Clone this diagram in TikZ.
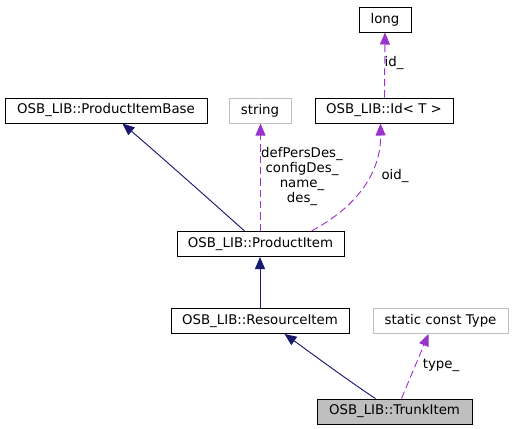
\documentclass[tikz,border=0pt]{standalone}
\usepackage{fontspec}
\setmainfont{DejaVu Sans}
\usetikzlibrary{arrows.meta,calc}
\definecolor{inhc}{HTML}{191970}
\definecolor{usec}{HTML}{9A32CD}
\definecolor{grayb}{HTML}{BFBFBF}
\begin{document}
\begin{tikzpicture}[x=0.75pt,y=-0.75pt,
  box/.style={draw=black,line width=0.75pt,inner sep=0pt,minimum height=25*0.75pt,font=\fontsize{10}{12}\selectfont},
  gbox/.style={box,draw=grayb},
  inh/.style={draw=inhc,line width=0.7pt,-{Triangle[length=9pt,width=7.5pt]}},
  use/.style={draw=usec,line width=0.7pt,dash pattern=on 5.5pt off 3pt,-{Triangle[length=9pt,width=7.5pt]}},
  lab/.style={inner sep=0pt,font=\fontsize{10}{11.2}\selectfont,align=center}]
\useasboundingbox (0,0) rectangle (512,429);
\node[box,minimum width=52*0.75pt] (long) at (385,19.5) {long};
\node[box,minimum width=202*0.75pt] (pib) at (106,110.5) {OSB\_LIB::ProductItemBase};
\node[gbox,minimum width=62*0.75pt] (str) at (260,110.5) {string};
\node[box,minimum width=138*0.75pt] (id) at (384,110.5) {OSB\_LIB::Id< T >};
\node[box,minimum width=167*0.75pt] (pi) at (260.5,244) {OSB\_LIB::ProductItem};
\node[box,minimum width=178*0.75pt] (ri) at (260,321) {OSB\_LIB::ResourceItem};
\node[gbox,minimum width=135*0.75pt] (ty) at (440.5,321) {static const Type};
\node[box,fill=grayb,minimum width=155*0.75pt] (tr) at (394.5,411.5) {OSB\_LIB::TrunkItem};
% inheritance
\draw[inh] ($(pi.north west)+(68,0)$) .. controls (238,225) and (165,160) .. ($(pib.south west)+(118,0)$);
\draw[inh] (ri.north) -- (ri.north |- pi.south);
\draw[inh] ($(tr.north west)+(59,0)$) .. controls (350,382) and (300,345) .. ($(ri.south west)+(114,0)$);
% usage
\draw[use] (pi.north) -- (pi.north |- str.south);
\draw[use] ($(pi.north west)+(135,0)$) .. controls (360,205) and (381,170) .. ($(id.south west)+(66,0)$);
\draw[use] ($(id.north west)+(70,0)$) -- (long.south);
\draw[use] ($(tr.north west)+(85,0)$) -- ($(ty.south west)+(56,0)$);
% labels
\node[lab] (l1) at (302,176.5) {defPersDes\_\\configDes\_\\name\_\\des\_};
\node[lab] (l2) at (395,176) {oid\_};
\node[lab] (l3) at (394,63) {id\_};
\node[lab] (l4) at (441,365) {type\_};
\end{tikzpicture}
\end{document}
